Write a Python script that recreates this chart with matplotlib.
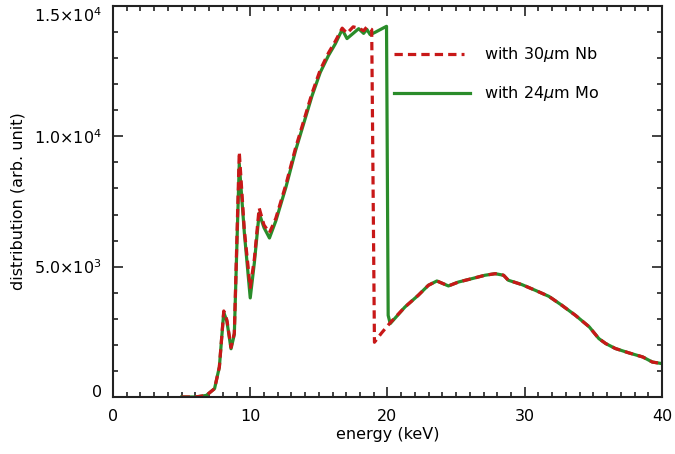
import matplotlib
matplotlib.use("Agg")
import matplotlib.pyplot as plt
from matplotlib.ticker import MultipleLocator

# ---- data ----
energy_nb = [5.0, 6.0, 6.8, 7.4, 7.75, 8.07, 8.3, 8.6, 8.84, 9.2, 9.57, 10.0, 10.3,
             10.65, 11.0, 11.4, 11.86, 12.6, 13.3, 13.9, 14.5, 15.1, 15.7, 16.2,
             16.7, 17.05, 17.5, 17.9, 18.26, 18.5, 18.85, 19.05, 19.56, 20.2,
             21.27, 22.24, 22.98, 23.6, 24.44, 25.17, 26.15, 27.1, 27.85, 28.46,
             28.8, 29.8, 30.78, 31.76, 32.7, 33.7, 34.7, 35.4, 35.9, 36.6, 37.6,
             38.6, 39.3, 40.0]
dist_nb = [0, 0, 60, 320, 1150, 3300, 2950, 1900, 2450, 9400, 6400, 4200, 5300,
           7250, 6600, 6300, 6850, 8150, 9550, 10600, 11650, 12550, 13200, 13650,
           14150, 13950, 14200, 14150, 14050, 14200, 14100, 2100, 2450, 2850,
           3450, 3900, 4285, 4450, 4260, 4410, 4540, 4670, 4730, 4670,
           4480, 4310, 4090, 3860, 3520, 3130, 2690, 2240, 2050, 1860, 1690,
           1535, 1340, 1280]

energy_mo = [5.0, 6.0, 6.8, 7.4, 7.75, 8.07, 8.3, 8.6, 8.84, 9.2, 9.57, 10.0, 10.3,
             10.65, 11.0, 11.4, 11.86, 12.6, 13.3, 13.9, 14.5, 15.1, 15.7, 16.2,
             16.7, 17.05, 17.5, 17.9, 18.26, 18.5, 18.74, 19.1, 19.6, 19.93, 20.05,
             20.2, 21.27, 22.24, 22.98, 23.6, 24.44, 25.17, 26.15, 27.1, 27.85,
             28.46, 28.8, 29.8, 30.78, 31.76, 32.7, 33.7, 34.7, 35.4, 35.9, 36.6,
             37.6, 38.6, 39.3, 40.0]
dist_mo = [0, 0, 60, 320, 1150, 3250, 2900, 1850, 2400, 8950, 6300, 3800, 5150,
           7050, 6500, 6100, 6750, 8050, 9450, 10500, 11550, 12450, 13100, 13550,
           14100, 13750, 13950, 14130, 13950, 14100, 13900, 13990, 14130, 14220, 3130,
           2815, 3450, 3900, 4285, 4450, 4260, 4410, 4540, 4670, 4730,
           4670, 4480, 4310, 4090, 3860, 3520, 3130, 2690, 2240, 2050, 1860,
           1690, 1535, 1340, 1280]

label_nb = r"with 30$\mu$m Nb"
label_mo = r"with 24$\mu$m Mo"

xticks = [0, 10, 20, 30, 40]
yticks = [0, 5000, 10000, 15000]
yticklabels = ["0", r"5.0$\times$10$^3$", r"1.0$\times$10$^4$", r"1.5$\times$10$^4$"]

# ---- plot ----
plt.rcParams["font.family"] = ["DejaVu Sans"]
plt.rcParams["mathtext.fontset"] = "dejavusans"

fig = plt.figure(figsize=(6.75, 4.54), dpi=100)
ax = fig.add_axes([0.1674, 0.1256, 0.8133, 0.8612])

red = "#c81818"
green = "#2a8c2a"
lw = 2.3

ax.plot(energy_mo, dist_mo, color=green, lw=lw)
ax.plot(energy_nb, dist_nb, color=red, lw=lw, dashes=(2.6, 1.6))

ax.set_xlim(0, 40)
ax.set_ylim(0, 15000)
ax.set_xticks(xticks)
ax.set_yticks(yticks)
ax.set_yticklabels(yticklabels)
ax.xaxis.set_minor_locator(MultipleLocator(1))
ax.yaxis.set_minor_locator(MultipleLocator(1000))
ax.tick_params(which="both", direction="in", top=True, right=True,
               labelsize=11.5, width=1.2, color="#222222")
ax.tick_params(which="major", length=7, pad=8)
ax.tick_params(which="minor", length=3.5)
ax.tick_params(axis="x", which="major", pad=9)
for s in ax.spines.values():
    s.set_linewidth(1.5)
    s.set_color("#222222")

# keep end labels inside the axis range, as in the reference
ylabels = ax.get_yticklabels()
ylabels[0].set_verticalalignment("baseline")
ylabels[-1].set_verticalalignment("top")

ax.set_xlabel("energy (keV)", fontsize=11.5, labelpad=2)
ax.set_ylabel("distribution (arb. unit)", fontsize=11.5, labelpad=6)

# legend drawn in data coordinates
ax.plot([20.5, 25.6], [13150, 13150], color=red, lw=lw, dashes=(2.6, 1.6))
ax.plot([20.5, 26.0], [11650, 11650], color=green, lw=lw)
ax.text(27.0, 13150, label_nb, fontsize=11.5, va="center", ha="left")
ax.text(27.0, 11650, label_mo, fontsize=11.5, va="center", ha="left")

fig.savefig("out.png", dpi=100)
